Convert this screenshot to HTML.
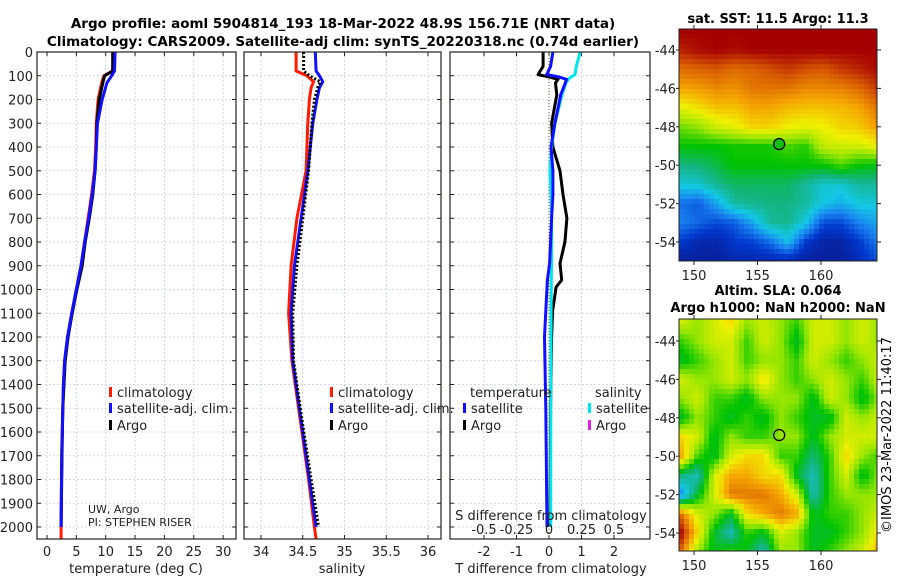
<!DOCTYPE html>
<html><head><meta charset="utf-8"><style>
html,body{margin:0;padding:0;background:#fff;}
svg{display:block;font-family:"DejaVu Sans","Liberation Sans",sans-serif;}
</style></head><body>
<svg id="fig" width="900" height="580" viewBox="0 0 900 580" xmlns="http://www.w3.org/2000/svg">
<text x="343" y="28" font-size="13.5" font-weight="bold" text-anchor="middle">Argo profile: aoml 5904814_193 18-Mar-2022 48.9S 156.71E (NRT data)</text>
<text x="343" y="46" font-size="13.5" font-weight="bold" text-anchor="middle">Climatology: CARS2009. Satellite-adj clim: synTS_20220318.nc (0.74d earlier)</text>
<text x="778" y="23" font-size="13" font-weight="bold" text-anchor="middle">sat. SST: 11.5 Argo: 11.3</text>
<text x="778" y="295" font-size="13" font-weight="bold" text-anchor="middle">Altim. SLA: 0.064</text>
<text x="778" y="312" font-size="13" font-weight="bold" text-anchor="middle">Argo h1000: NaN h2000: NaN</text>
<text transform="translate(891,435) rotate(-90)" font-size="13" text-anchor="middle">©IMOS 23-Mar-2022 11:40:17</text>
<g id="layer"></g>
</svg>
<script>
// ---- data ----
const depthT = [0,80,100,130,200,300,400,500,600,700,800,900,1000,1100,1200,1300,1400,1500,1700,2000];
const argoT  = [11.2,11.2,9.8,9.5,8.9,8.5,8.4,8.2,7.8,7.2,6.5,6.0,5.1,4.3,3.6,3.1,2.9,2.7,2.55,2.4];
const satT   = [11.6,11.5,11.0,10.2,9.4,8.6,8.4,8.2,7.7,7.1,6.4,5.8,5.0,4.2,3.5,3.0,2.8,2.7,2.5,2.4];
const depthTc = [0,80,100,130,200,300,400,500,600,700,800,900,1000,1100,1200,1300,1400,1500,1700,2000,2050];
const climT  = [11.3,11.2,9.7,9.3,8.7,8.4,8.3,8.1,7.6,7.0,6.4,5.8,5.0,4.2,3.5,3.0,2.8,2.7,2.5,2.4,2.4];
const depthS = [0,80,100,125,150,200,300,500,700,900,1100,1300,1500,1800,2000];
const argoS  = [34.51,34.51,34.58,34.71,34.68,34.64,34.61,34.57,34.50,34.43,34.38,34.39,34.47,34.60,34.69];
const satS   = [34.65,34.66,34.70,34.74,34.70,34.67,34.62,34.56,34.48,34.40,34.36,34.38,34.46,34.58,34.66];
const depthSc = [0,80,100,125,150,200,300,500,700,900,1100,1300,1500,1800,2000,2050];
const climS  = [34.42,34.42,34.55,34.63,34.60,34.58,34.56,34.54,34.43,34.36,34.33,34.37,34.45,34.57,34.64,34.66];
const depthD = [0,60,95,105,115,130,180,300,400,500,600,700,800,890,960,990,1090,1200,1500,2000];
const argoTd = [-0.18,-0.18,-0.34,0.0,0.28,0.2,0.24,0.08,0.12,0.34,0.43,0.55,0.49,0.34,0.39,0.22,0.11,0.08,0.05,0.03];
const satTd  = [0.12,0.05,-0.07,0.3,0.54,0.5,0.36,0.18,0.06,0.12,0.12,0.08,0.05,0.02,-0.05,-0.06,-0.1,-0.14,-0.1,-0.06];
const satSd  = [0.24,0.21,0.2,0.17,0.15,0.13,0.1,0.046,0.02,0.008,0.015,0.02,0.02,0.02,0.018,0.018,0.016,0.015,0.014,0.013];
const depthTicks = [0,100,200,300,400,500,600,700,800,900,1000,1100,1200,1300,1400,1500,1600,1700,1800,1900,2000];
const tempTicks = [0,5,10,15,20,25,30];
const salTicks = [34,34.5,35,35.5,36];
const salTickLabels = ["34","34.5","35","35.5","36"];
const tdTicks = [-2,-1,0,1,2];
const sdTicks = [-0.5,-0.25,0,0.25,0.5];
const sdTickLabels = ["-0.5","-0.25","0","0.25","0.5"];
const latTicks = [-44,-46,-48,-50,-52,-54];
const lonTicks = [150,155,160];
const floatLon = 156.71, floatLat = -48.9;
const sstLats = [-43,-44,-45,-46,-47,-48,-49,-50,-51,-52,-53,-54,-55];
const sstLons = [149,150.4,151.8,153.2,154.6,156,157.4,158.8,160.2,161.6,163,164.4];
const sstGrid = [
[15,15,15,15,15,15,15,15,15,15,15,15],
[14.7,14.9,15,14.9,15,15,15,15,15,15,15,15],
[14.0,14.1,14.2,14.0,14.1,14.3,14.5,14.3,14.2,14.5,14.7,14.9],
[13.4,13.5,13.7,13.6,13.9,13.9,13.9,13.7,13.7,13.8,14.0,14.5],
[12.5,12.8,13.1,13.1,13.4,13.4,13.2,13.1,13.1,13.2,13.4,13.9],
[11.6,11.8,12.3,12.5,12.9,12.9,12.6,12.5,12.6,12.9,13.0,13.5],
[11.0,11.0,11.0,11.1,11.1,11.1,11.4,11.2,12.2,12.3,12.3,12.6],
[10.2,10.3,10.6,11.0,11.0,11.0,11.0,11.0,11.0,11.4,11.0,10.9],
[9.5,9.6,10.1,10.4,10.4,10.4,10.4,10.0,9.6,9.6,10.0,10.0],
[8.4,8.2,9.0,10.0,10.1,10.2,10.2,10.0,9.4,9.1,9.5,9.5],
[8.6,8.3,8.0,8.2,9.0,10.0,10.1,9.4,8.0,8.0,8.6,9.0],
[7.8,7.4,7.4,7.8,7.9,8.4,9.3,7.8,7.3,7.3,7.8,8.5],
[7.2,7.2,7.2,7.4,7.4,7.4,7.4,7.2,7.2,7.2,7.5,8.0]];
const slaLats = [-43,-44,-45,-46,-47,-48,-49,-50,-51,-52,-53,-54,-55];
const slaLons = [149,150.3,151.6,152.9,154.2,155.5,156.8,158.1,159.4,160.7,162,163.3,164.6];
const slaGrid = [
[0.05,0.0,0.05,0.1,0.0,0.05,0.0,-0.05,0.05,0.05,0.0,0.05,0.0],
[-0.05,0.0,0.05,0.05,-0.05,0.05,0.0,-0.1,0.05,0.05,0.0,0.05,0.0],
[-0.1,-0.05,0.0,0.05,-0.05,0.0,0.0,-0.05,0.05,0.0,-0.05,0.0,0.05],
[0.05,0.0,0.0,0.05,0.0,0.1,0.0,-0.05,0.0,0.05,0.0,-0.05,0.05],
[0.0,0.05,-0.05,-0.05,-0.1,0.0,0.0,0.0,-0.1,0.05,0.0,-0.1,0.0],
[-0.1,0.0,-0.05,-0.1,-0.05,-0.1,0.0,-0.05,-0.1,-0.1,0.05,0.0,0.05],
[0.1,0.05,-0.1,0.0,-0.05,-0.05,0.0,0.0,-0.1,0.0,0.05,0.05,0.05],
[0.15,-0.05,-0.1,0.05,0.1,0.1,-0.05,-0.05,-0.15,-0.05,0.1,0.0,-0.05],
[-0.15,-0.2,0.05,0.15,0.15,0.1,0.1,-0.1,-0.2,-0.05,0.05,-0.1,0.0],
[-0.3,-0.1,0.05,0.2,0.2,0.2,0.15,0.05,-0.2,-0.05,0.0,0.0,0.0],
[0.2,0.05,0.0,-0.1,0.1,0.15,0.2,0.15,-0.1,-0.05,-0.05,0.0,0.05],
[0.3,0.1,-0.1,-0.2,-0.05,-0.1,0.05,0.0,-0.1,-0.1,-0.05,0.0,0.1],
[0.2,0.0,-0.1,-0.05,-0.1,-0.2,0.0,0.0,-0.1,-0.05,0.0,0.05,0.15]];

// ---- helpers ----
const NS="http://www.w3.org/2000/svg";
const layer=document.getElementById('layer');
function mk(tag,attrs,parent){const e=document.createElementNS(NS,tag);for(const k in attrs)e.setAttribute(k,attrs[k]);(parent||layer).appendChild(e);return e;}
const Y=d=>52+d*0.2375;
const XT=t=>47+5.87*t;
const XS=s=>261+83.5*(s-34);
const XTd=v=>549+32.5*v;
const XSd=v=>549+130*v;
const TOP=52,BOT=539;

function panel(x0,x1,name){
  const g=mk('g',{});
  
  
  depthTicks.forEach(d=>{
    const l=mk('line',{x1:x0,x2:x1,y1:Y(d),y2:Y(d),stroke:'#c9cce6','stroke-width':0.8,'stroke-dasharray':'2,2'},g);
    
    
    mk('line',{x1:x0,x2:x0+4,y1:Y(d),y2:Y(d),stroke:'#222'},g);
    mk('line',{x1:x1-4,x2:x1,y1:Y(d),y2:Y(d),stroke:'#222'},g);
  });
  return g;
}
function vgrid(g,xs){
  xs.forEach(x=>{
    const l=mk('line',{x1:x,x2:x,y1:TOP,y2:BOT,stroke:'#c9cce6','stroke-width':0.8,'stroke-dasharray':'2,2'},g);
    
    
    mk('line',{x1:x,x2:x,y1:BOT-4,y2:BOT,stroke:'#222'},g);
    mk('line',{x1:x,x2:x,y1:TOP,y2:TOP+4,stroke:'#222'},g);
  });
}
function frame(g,x0,x1){
  const r=mk('rect',{x:x0,y:TOP,width:x1-x0,height:BOT-TOP,fill:'none',stroke:'#222','stroke-width':1.2},g);
  
  
}
function line(g,xs,ds,fx,color,w,name,dash){
  const pts=xs.map((v,i)=>fx(v).toFixed(1)+','+Y(ds[i]).toFixed(1)).join(' ');
  const a={points:pts,fill:'none',stroke:color,'stroke-width':w,'stroke-linejoin':'round'};
  if(dash)a['stroke-dasharray']=dash;
  const p=mk('polyline',a,g);
  
  
}
function txt(g,x,y,s,size,anchor,name){
  const t=mk('text',{x:x,y:y,'font-size':size,'text-anchor':anchor||'start',fill:'#222'},g);
  t.textContent=s;
  
  
  return t;
}
function legend(g,x,y,color,label,name){
  const m=mk('rect',{x:x,y:y-10,width:3,height:10,fill:color},g);
  
  
  txt(g,x+8,y,label,13,'start',name);
}

// ---- panel 1: temperature ----
const g1=panel(37,236,'temperature-panel');
vgrid(g1,tempTicks.map(XT));
line(g1,climT,depthTc,XT,'#ff1a00',3,'temperature-climatology-line');
line(g1,argoT,depthT,XT,'#000',3,'temperature-argo-line');
line(g1,satT,depthT,XT,'#1010ff',3,'temperature-satellite-adj-line');
frame(g1,37,236);
depthTicks.forEach(d=>txt(g1,33,Y(d)+5,String(d),13,'end','depth-tick-label'));
tempTicks.forEach(t=>txt(g1,XT(t),556,String(t),13,'middle','temperature-tick-label'));
txt(g1,136,573,'temperature (deg C)',13,'middle','temperature-axis-title');
legend(g1,109,397,'#ff1a00','climatology','legend-climatology');
legend(g1,109,413,'#1010ff','satellite-adj. clim.','legend-satellite-adj');
legend(g1,109,430,'#000','Argo','legend-argo');
txt(g1,88,513,'UW, Argo',11,'start','institution-label');
txt(g1,88,526,'PI: STEPHEN RISER',11,'start','pi-label');

// ---- panel 2: salinity ----
const g2=panel(244,441,'salinity-panel');
vgrid(g2,salTicks.map(XS));
line(g2,climS,depthSc,XS,'#ff1a00',3,'salinity-climatology-line');
line(g2,satS,depthS,XS,'#1010ff',3,'salinity-satellite-adj-line');
line(g2,argoS,depthS,XS,'#000',3,'salinity-argo-line','2,2');
frame(g2,244,441);
salTicks.forEach((s,i)=>txt(g2,XS(s),556,salTickLabels[i],13,'middle','salinity-tick-label'));
txt(g2,342,573,'salinity',13,'middle','salinity-axis-title');
legend(g2,330,397,'#ff1a00','climatology','legend-climatology-2');
legend(g2,330,413,'#1010ff','satellite-adj. clim.','legend-satellite-adj-2');
legend(g2,330,430,'#000','Argo','legend-argo-2');

// ---- panel 3: differences ----
const g3=panel(450,650,'difference-panel');
vgrid(g3,tdTicks.map(XTd));
const z=mk('line',{x1:XTd(0),x2:XTd(0),y1:TOP,y2:BOT,stroke:'#556b2f','stroke-width':1,'stroke-dasharray':'1,2'},g3);


line(g3,argoTd,depthD,XTd,'#000',3,'t-diff-argo-line');
line(g3,satSd,depthD,XSd,'#00e5ee',3,'s-diff-satellite-line');
line(g3,satTd,depthD,XTd,'#1010ff',3,'t-diff-satellite-line');
frame(g3,450,650);
tdTicks.forEach(t=>txt(g3,XTd(t),556,String(t),13,'middle','t-diff-tick-label'));
sdTicks.forEach((s,i)=>txt(g3,XSd(s),534,sdTickLabels[i],13,'middle','s-diff-tick-label'));
txt(g3,551,520,'S difference from climatology',13,'middle','s-diff-axis-title');
txt(g3,551,573,'T difference from climatology',13,'middle','t-diff-axis-title');
txt(g3,470,397,'temperature',13,'start','legend-temperature-header');
legend(g3,463,413,'#1010ff','satellite','legend-t-satellite');
legend(g3,463,430,'#000','Argo','legend-t-argo');
txt(g3,595,397,'salinity',13,'start','legend-salinity-header');
legend(g3,588,413,'#00e5ee','satellite','legend-s-satellite');
legend(g3,588,430,'#e020e0','Argo','legend-s-argo');

// ---- maps ----
const stops=[[0,[10,25,140]],[0.1,[0,55,205]],[0.2,[25,130,240]],[0.3,[20,200,230]],[0.4,[20,180,130]],[0.5,[0,195,0]],[0.6,[150,230,0]],[0.7,[240,240,0]],[0.8,[245,165,0]],[0.9,[215,90,0]],[1,[165,0,0]]];
function cmap(t){t=Math.max(0,Math.min(1,t));for(let i=1;i<stops.length;i++){if(t<=stops[i][0]){const a=stops[i-1],b=stops[i];const f=(t-a[0])/(b[0]-a[0]);const c=a[1].map((v,k)=>Math.round(v+(b[1][k]-v)*f));return 'rgb('+c.join(',')+')';}}return 'rgb(165,0,0)';}
function interp(grid,lats,lons,lat,lon){
  let fi=(lats[0]-lat)/(lats[0]-lats[lats.length-1])*(lats.length-1);
  let fj=(lon-lons[0])/(lons[lons.length-1]-lons[0])*(lons.length-1);
  fi=Math.max(0,Math.min(lats.length-1.001,fi));fj=Math.max(0,Math.min(lons.length-1.001,fj));
  const i=Math.floor(fi),j=Math.floor(fj),a=fi-i,b=fj-j;
  return grid[i][j]*(1-a)*(1-b)+grid[i+1][j]*a*(1-b)+grid[i][j+1]*(1-a)*b+grid[i+1][j+1]*a*b;
}
function map(x0,y0,w,h,latY0,name,grid,lats,lons,norm,dot){
  const g=mk('g',{});
  
  
  const lonX=l=>694+12.7*(l-150);
  const latY=l=>latY0+19.2*(-44-l);
  const cw=5,ch=5;
  for(let y=y0;y<y0+h;y+=ch){for(let x=x0;x<x0+w;x+=cw){
    const lon=150+(x+cw/2-694)/12.7, lat=-44-(y+ch/2-latY0)/19.2;
    const v=interp(grid,lats,lons,lat,lon);
    const r=mk('rect',{x:x,y:y,width:Math.min(cw,x0+w-x)+0.3,height:Math.min(ch,y0+h-y)+0.3,fill:cmap(norm(v))},g);
    
    
  }}
  const fr=mk('rect',{x:x0,y:y0,width:w,height:h,fill:'none',stroke:'#222','stroke-width':1},g);
  
  
  latTicks.forEach(l=>{mk('line',{x1:x0+w,x2:x0+w+4,y1:latY(l),y2:latY(l),stroke:'#222'},g);mk('line',{x1:x0-3,x2:x0,y1:latY(l),y2:latY(l),stroke:'#222'},g);txt(g,x0-3,latY(l)+5,String(l),13,'end','latitude-tick-label');});
  lonTicks.forEach(l=>{mk('line',{x1:lonX(l),x2:lonX(l),y1:y0+h,y2:y0+h+4,stroke:'#222'},g);mk('line',{x1:lonX(l),x2:lonX(l),y1:y0-4,y2:y0,stroke:'#222'},g);txt(g,lonX(l),y0+h+19,String(l),13,'middle','longitude-tick-label');});
  const c=mk('circle',{cx:lonX(floatLon),cy:latY(floatLat),r:5.5,fill:dot?'#10c010':'none',stroke:'#000','stroke-width':1.3},g);
  
  
}
map(679,29,198,232,50,'sst-map',sstGrid,sstLats,sstLons,v=>(v-7)/8,true);
map(679,319,198,232,341,'sla-map',slaGrid,slaLats,slaLons,v=>0.6+v*1.3,false);
</script>
</body></html>
